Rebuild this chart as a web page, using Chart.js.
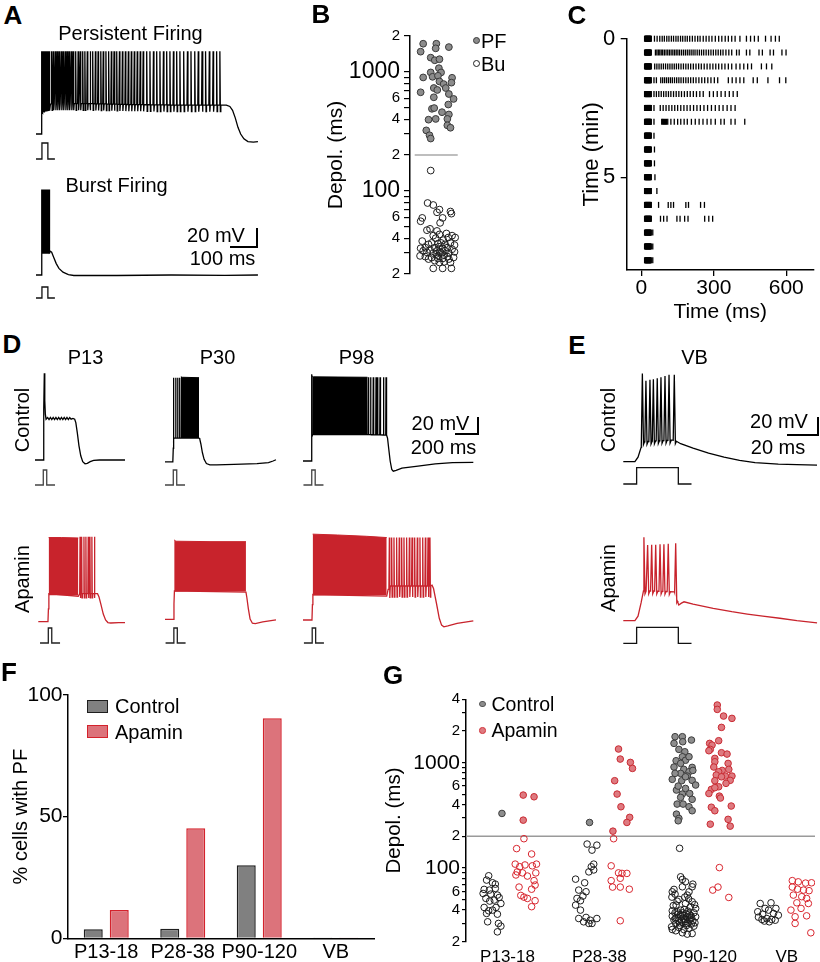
<!DOCTYPE html>
<html>
<head>
<meta charset="utf-8">
<title>Persistent firing and apamin</title>
<script src="https://cdn.jsdelivr.net/npm/chart.js@4.4.1/dist/chart.umd.min.js"></script>
<style>
  html, body { margin: 0; padding: 0; background: #fff; }
  body { position: relative; width: 820px; height: 962px; overflow: hidden;
         font-family: 'Liberation Sans', Arial, sans-serif; color: #000; }
  canvas { position: absolute; }
  .txt { position: absolute; white-space: nowrap; line-height: 1; transform: translate(-50%, -50%); }
  .txt.left { transform: translate(0, -50%); }
  .txt.rot { transform: translate(-50%, -50%) rotate(-90deg); }
</style>
</head>
<body>
<script>
Chart.defaults.font.family = "'Liberation Sans', Arial, sans-serif";
Chart.defaults.color = '#000';

// ---------- A: example traces (ms, mV) ----------
const stimA = [[0, 0], [22, 0], [22, 1], [44, 1], [44, 0], [70, 0]];
const persPath = [[0, -60], [19, -60], [21, -45], [23, -30], [60, -28], [200, -28], [350, -29], [500, -29.5], [690, -29.5],
  [705, -29.5], [718, -31], [728, -35], [738, -43], [748, -53], [758, -60], [770, -65], [785, -68], [805, -68.5], [822, -68]];
const persSpikes = [22, 24, 26, 28, 30, 32, 34, 36, 38, 40, 42, 44, 46, 48, 50,
  58, 64, 72, 79, 86, 94, 101, 109, 116, 123, 131, 138, 147, 156, 164, 173, 181, 190, 200, 210, 220, 230, 240, 249,
  259, 269, 279, 289, 299, 309, 320, 331, 342, 353, 364, 375, 386, 397, 410, 422, 435, 447, 459, 472, 484, 496, 509,
  521, 533, 547, 561, 574, 588, 601, 615, 628, 642, 656, 669, 681];
const burstPath = [[0, -60], [19, -60], [21, -45], [23, -37], [50, -37], [53, -35], [58, -36], [65, -41], [75, -48],
  [85, -53], [100, -57], [120, -59.5], [140, -60.5], [300, -60.5], [500, -60], [700, -60.3], [822, -60]];
const burstSpikes = [22, 24, 26, 28, 30, 32, 34, 36, 38, 40, 42, 44, 46, 48, 50];

// ---------- B: depolarisation duration (jitter, ms) ----------
const bPF = [[1.4, 1722], [2.8, 1722], [2.73, 1575], [1.13, 1477], [4.13, 1614], [2.2, 1316], [2.63, 1251], [3.13, 1276],
  [3.07, 1073], [2.2, 988], [3.3, 988], [1.4, 897], [2.4, 908], [2.97, 926], [4.47, 891], [3.13, 830], [3.57, 789],
  [4.4, 811], [2.53, 731], [2.9, 704], [3.8, 731], [1.13, 673], [4.13, 651], [2.53, 611], [4.63, 592], [4.07, 531],
  [2.33, 489], [2.57, 496], [3.4, 458], [4.13, 438], [1.97, 396], [2.73, 402], [3.97, 402], [3.97, 355], [4.3, 339],
  [1.73, 322], [2.07, 293], [2.2, 275]];
const bBu = [[2.2, 148], [1.87, 79], [2.47, 76], [3.13, 69.5], [2.87, 66], [4.3, 67], [4.4, 64.3], [1.3, 59.2], [1.13, 55.5],
  [3.47, 59.2], [3.2, 53.8], [2.13, 47.9], [1.8, 46.7], [2.87, 46], [3.87, 43.8], [1.3, 37.8], [2.47, 42], [3.13, 43],
  [4.47, 42], [4.8, 40.5], [2.73, 40], [3.53, 38.5], [4.07, 40.5], [1.97, 35.5], [2.3, 36.5], [2.97, 36], [3.3, 36.5],
  [3.73, 35.5], [4.3, 36.5], [4.73, 35], [1.63, 33.3], [2.63, 33.3], [3.07, 33.9], [3.47, 32.9], [3.97, 33.3],
  [4.47, 32.3], [2.13, 31.8], [2.87, 31.3], [3.2, 30.7], [3.73, 31.3], [1.13, 32.9], [1.4, 31.3], [1.8, 30.4],
  [2.47, 30], [4.13, 30], [4.73, 30.7], [1.07, 28.4], [1.63, 28], [2.3, 27.5], [2.97, 28.4], [3.47, 27], [3.97, 28],
  [4.63, 27.5], [1.97, 26.7], [2.63, 25.9], [3.13, 25], [3.63, 25.3], [4.3, 25], [2.47, 22.3], [3.47, 22.3],
  [4.4, 22.3], [2.8, 29.5], [3.3, 30], [3.63, 28.8], [2.97, 27], [4.13, 26.7]];
const bThreshold = [[0.5, 200], [5.07, 200]];
const bTickVals = [20, 30, 40, 50, 60, 70, 80, 90, 100, 200, 300, 400, 500, 600, 700, 800, 900, 1000, 2000];
const bTickText = ['2', '', '4', '', '6', '', '', '', '100', '2', '', '4', '', '6', '', '', '', '1000', '2'];

// ---------- C: raster, spike times (ms) per sweep ----------
const rasterRowMin = [0, 0.5, 1, 1.5, 2, 2.5, 3, 3.5, 4, 4.5, 5, 5.5, 6, 6.5, 7, 7.5, 8];
const rasterBurst = [15, 17, 19, 21, 23, 25, 27, 29, 31, 33, 35, 37, 39];
const rasterSpikes = [
  [54, 65, 76, 86, 95, 105, 114, 124, 133, 143, 152, 162, 171, 181, 190, 200, 211, 222, 233, 243, 256, 268, 280, 292,
    306, 320, 333, 347, 360, 374, 388, 408, 435, 452, 468, 484, 514, 537, 555, 571],
  [58, 64, 70, 76, 82, 88, 95, 102, 109, 116, 123, 130, 137, 144, 151, 158, 166, 174, 182, 190, 198, 206, 214, 222,
    231, 240, 249, 258, 268, 278, 288, 298, 308, 318, 328, 338, 350, 362, 374, 394, 405, 435, 449, 487, 501, 533, 547, 582, 599],
  [55, 64, 73, 82, 91, 100, 109, 118, 127, 136, 145, 154, 164, 174, 184, 194, 204, 215, 226, 237, 248, 260, 272, 284,
    296, 308, 320, 333, 346, 360, 374, 392, 408, 424, 440, 456, 497, 518, 540],
  [52, 62, 80, 88, 96, 104, 112, 120, 128, 137, 146, 155, 164, 174, 184, 194, 204, 215, 226, 238, 250, 262, 275, 288,
    302, 316, 360, 376, 392, 408, 424, 463, 480, 524, 572, 598],
  [52, 62, 72, 82, 92, 102, 112, 122, 133, 144, 155, 166, 178, 190, 202, 215, 228, 242, 256, 282, 298, 314, 330, 347, 364, 380, 397],
  [52, 78, 90, 102, 114, 126, 138, 150, 163, 176, 189, 202, 216, 230, 244, 259, 274, 290, 306, 322, 338, 355, 371, 388],
  [52, 84, 88, 92, 96, 100, 104, 109, 122, 136, 150, 163, 177, 190, 207, 223, 239, 255, 272, 288, 306, 329, 343, 371, 388, 428],
  [52], [54], [54], [56], [64],
  [71, 111, 122, 133, 184, 195, 245, 261],
  [79, 92, 106, 147, 160, 179, 193, 262, 279, 295],
  [47], [47], [47]
];
const cTicksX = [0, 300, 600];
const cTicksY = [0, 5];

// ---------- D: age examples, control and apamin ----------
const stimD = [[-72, 0], [0, 0], [0, 1], [30, 1], [30, 0], [102, 0]];
const d13cPath = [[0, -60], [70, -60], [74, -40], [78, 0], [81, 42], [85, 10], [90, -6], [96, -12], [110, -10], [122, -12.5],
  [134, -10], [146, -12.5], [158, -10], [170, -12.5], [182, -10], [194, -12.5], [206, -10], [218, -12.5], [230, -10],
  [242, -12.5], [254, -10], [266, -12.5], [278, -10], [290, -12.5], [302, -10], [314, -12], [330, -11], [345, -12],
  [355, -16], [368, -28], [382, -43], [398, -55], [415, -62], [435, -64.5], [455, -64], [480, -62], [510, -60.5],
  [560, -60], [783, -60]];
const d30cPath = [[0, -61], [68, -61], [72, -45], [75, -33], [296, -33], [302, -34], [312, -40], [325, -50], [340, -58],
  [360, -63], [390, -64.5], [450, -64.5], [600, -64], [800, -63], [900, -62], [940, -60], [965, -58.5]];
const d30cSpikes = [75, 93, 110, 128];
const d30cBand = [[138, 39], [150, 38.5], [296, 38]];
const d98cPath = [[0, -60], [72, -60], [76, -40], [80, -29], [300, -29], [560, -29], [728, -29.5], [735, -33], [745, -45],
  [758, -60], [772, -70], [785, -72], [810, -71], [860, -68.5], [1000, -66], [1150, -63.5], [1300, -62], [1481, -61.5]];
const d98cSpikes = [[77, 42], 567, 588, 611, 635, 649, 670, 699, 722];
const d98cBand = [[80, 40], [90, 39], [560, 38.5]];
const d13aPath = [[0, -60], [84, -60], [88, -45], [92, -27], [200, -28.5], [348, -30], [360, -27], [487, -27], [515, -27],
  [528, -31], [545, -40], [565, -51], [585, -58], [605, -61], [630, -61.5], [700, -61], [754, -61]];
const d13aSpikes = [363, 377, 397, 414, 434, 449, 466, 487];
const d13aBand = [[90, 39], [200, 39], [348, 38.5]];
const d30aPath = [[0, -60.5], [74, -60.5], [78, -42], [82, -27], [300, -27.5], [704, -28.5], [712, -35], [725, -48],
  [740, -60], [760, -65], [785, -65.5], [850, -63.5], [965, -61]];
const d30aBand = [[80, 33], [95, 31.5], [400, 31], [704, 31]];
const d98aPath = [[0, -60], [78, -60], [82, -42], [86, -30], [400, -31], [728, -32], [740, -24], [760, -20], [1110, -20],
  [1122, -19], [1135, -23], [1160, -40], [1185, -58], [1205, -66], [1225, -68], [1260, -67], [1340, -64], [1481, -61]];
const d98aSpikes = [751, 771, 791, 814, 837, 858, 878, 901, 925, 948, 971, 994, 1017, 1041, 1064, 1087, 1104];
const d98aBand = [[84, 41], [300, 40], [550, 38.5], [728, 37]];

// ---------- E: VB neuron ----------
const stimE = [[0, 0], [8.6, 0], [8.6, 1], [35.5, 1], [35.5, 0], [44, 0]];
const eCtrlPath = [[0, -60], [7.5, -60], [9.5, -55], [11.5, -44], [13, -38], [20, -37], [32, -36], [34.5, -37.5], [37, -40],
  [45, -45], [55, -50.5], [65, -55], [75, -58.5], [85, -61], [100, -62.6], [112, -63.3], [125, -63.7]];
const eCtrlSpikes = [[12.3, 38], [14.6, 30], [17.2, 31], [19.4, 31.7], [21.9, 32.6], [24.3, 33.7], [26.9, 35.2], [29.5, 36.6], [32.9, 36.6]];
const eApaPath = [[0, -60], [7.5, -60], [9.5, -55], [11.5, -40], [13, -27], [20, -27], [33, -28], [34.8, -38], [35.8, -42.5],
  [37.5, -40.5], [39.2, -39], [45, -41.5], [58, -46.2], [70, -50], [80, -52.6], [90, -55], [101, -57.3], [112, -60], [125, -62.5]];
const eApaSpikes = [[13.3, 32.7], [15.7, 24], [18.3, 24.5], [20.9, 24.5], [23.7, 25], [26.2, 25], [29, 25.5], [33.8, 26]];

// ---------- F: % cells with persistent firing ----------
const fGroups = ['P13-18', 'P28-38', 'P90-120', 'VB'];
const fControl = [3.7, 3.9, 30, 0.3];
const fApamin = [11.6, 45.2, 90.4, 0.3];
const fTicks = [0, 50, 100];

// ---------- G: depolarisation by age, control vs apamin (position, ms) ----------
const gGroupNames = ['P13-18', 'P28-38', 'P90-120', 'VB'];
const gGroupPos = [1.19, 3.82, 6.84, 9.19];
const gTickVals = [20, 30, 40, 50, 60, 70, 80, 90, 100, 200, 300, 400, 500, 600, 700, 800, 900, 1000, 2000, 3000, 4000];
const gTickText = ['2', '', '4', '', '6', '', '', '', '100', '2', '', '4', '', '6', '', '', '', '1000', '2', '', '4'];
const gThreshold = [[0, 200], [10, 200]];
const g13CtrlPF = [[1.03, 330]];
const g13CtrlBu = [[0.65, 84.5], [0.59, 76.9], [0.76, 72.5], [0.84, 70.4], [0.52, 62.7], [0.67, 61.8], [0.84, 64.1],
  [0.49, 57.4], [0.71, 56.6], [0.9, 55.4], [0.57, 51.5], [0.81, 49.7], [0.95, 52.6], [0.68, 48.6], [1.0, 46.1],
  [0.52, 42.3], [0.86, 42.3], [0.65, 39.3], [0.76, 39.9], [0.59, 37.1], [0.9, 36.5], [0.62, 30.9], [0.93, 29.8],
  [1.0, 28.1], [0.9, 24.8]];
const g13ApaPF = [[1.64, 493], [1.95, 475], [1.64, 285]];
const g13ApaBu = [[1.66, 190], [1.45, 153], [1.88, 136], [1.41, 109], [1.69, 107], [2.02, 109], [1.54, 103], [1.9, 105],
  [1.47, 92], [1.62, 90], [1.76, 84], [2.0, 90], [1.43, 86], [1.95, 76], [1.98, 69], [1.52, 66], [1.88, 63], [1.57, 55],
  [1.66, 53], [1.76, 51.5], [1.98, 49], [1.88, 43]];
const g28CtrlPF = [[3.54, 271]];
const g28CtrlBu = [[3.47, 169], [3.75, 165], [3.61, 148], [3.66, 109], [3.59, 103], [3.66, 96], [3.52, 92], [3.14, 78.5],
  [3.4, 72.5], [3.23, 61.8], [3.44, 59.6], [3.35, 54.2], [3.18, 51.5], [3.28, 49], [3.14, 44.5], [3.28, 39.9],
  [3.23, 33.2], [3.44, 34], [3.56, 32], [3.75, 33.2], [3.52, 29.8], [3.61, 29.8], [3.37, 30.9]];
const g28ApaPF = [[4.37, 1349], [4.42, 1083], [4.71, 1007], [4.77, 883], [4.26, 675], [4.33, 504], [4.44, 382],
  [4.69, 303], [4.61, 271], [4.21, 224]];
const g28ApaBu = [[4.23, 190], [4.16, 105], [4.47, 89], [4.61, 89], [4.37, 90], [4.16, 76], [4.42, 80], [4.2, 66],
  [4.42, 66], [4.68, 63], [4.42, 31.6]];
const g90CtrlPF = [[5.99, 1766], [6.2, 1766], [5.96, 1526], [6.21, 1582], [6.46, 1641], [6.1, 1338], [6.27, 1271],
  [6.2, 1140], [6.02, 1045], [6.29, 1055], [6.15, 985], [6.48, 903], [5.96, 910], [6.24, 865], [6.39, 821], [6.5, 845],
  [6.15, 792], [6.34, 747], [5.91, 695], [6.18, 675], [6.48, 680], [6.58, 614], [6.03, 550], [6.2, 504], [6.41, 510],
  [6.15, 469], [6.48, 449], [6.05, 405], [6.22, 405], [6.39, 382], [6.48, 350], [6.03, 325], [6.1, 296], [6.08, 281],
  [6.29, 735], [5.99, 792], [6.39, 1140], [6.08, 600], [6.29, 570]];
const g90CtrlBu = [[6.12, 154], [6.15, 82.6], [6.2, 78], [6.29, 74.1], [6.5, 70.4], [6.48, 66.4], [5.96, 62.7],
  [5.91, 59.5], [5.99, 56.6], [6.39, 59.5], [6.34, 55.4], [6.2, 66.4], [6.1, 50.4], [6.48, 47.9], [6.02, 44.5],
  [6.29, 46.1], [6.43, 42.9], [5.91, 39.3], [6.15, 39.9], [6.58, 41.4], [5.99, 37.6], [6.08, 36.5], [6.2, 37.6],
  [6.31, 37.1], [6.4, 36.5], [6.53, 37.6], [5.91, 35], [6.02, 34], [6.15, 34.5], [6.24, 33.5], [6.34, 34.5], [6.46, 34],
  [6.58, 34.5], [5.96, 32.1], [6.08, 31.6], [6.18, 32.1], [6.29, 31.1], [6.39, 32.1], [6.5, 31.6], [6.21, 35.5],
  [6.27, 32.5], [6.12, 30.2], [6.35, 29.8], [6.01, 29.8], [6.46, 29.4], [6.56, 30.2], [5.89, 27.7], [6.1, 27.3],
  [6.39, 26.7], [6.53, 28.1], [6.2, 24.3], [6.34, 23.6], [6.48, 23.9], [6.01, 25.4], [6.24, 26.1], [5.91, 26.1],
  [6.05, 38.5], [6.25, 40.5], [6.36, 39], [6.14, 36], [6.44, 35.5], [6.0, 33], [6.22, 30.5], [6.32, 28.5], [6.13, 28.5],
  [6.42, 32.8], [5.94, 44], [6.55, 45], [6.05, 48.5], [6.38, 51], [6.27, 53], [5.9, 53]];
const g90ApaPF = [[7.2, 3529], [7.2, 3208], [7.38, 2773], [7.62, 2636], [7.32, 2165], [7.24, 1618], [6.98, 1526],
  [7.05, 1471], [7.0, 1338], [6.96, 1300], [7.32, 1244], [7.48, 1208], [7.13, 1099], [7.13, 1022], [7.51, 985],
  [7.1, 910], [7.34, 845], [7.24, 821], [7.53, 865], [7.17, 764], [7.43, 747], [7.62, 747], [7.32, 735], [7.57, 680],
  [7.13, 675], [7.45, 637], [7.24, 591], [7.03, 558], [7.13, 580], [6.96, 510], [7.26, 482], [7.29, 462], [7.6, 388],
  [7.03, 378], [7.13, 350], [7.51, 290], [7.0, 261], [7.57, 250]];
const g90ApaBu = [[7.26, 101], [7.07, 61.8], [7.22, 66], [7.53, 52.6]];
const gVBCtrlBu = [[8.43, 46.1], [8.74, 46.8], [8.57, 41.4], [8.88, 41.4], [8.36, 38.5], [8.67, 39.9], [8.5, 36.5],
  [8.81, 37.1], [8.95, 35.7], [8.38, 34.2], [8.62, 33.2], [8.76, 32.5], [8.48, 32.5], [8.69, 30.9], [8.55, 31.4], [8.86, 32]];
const gVBApaBu = [[9.35, 76], [9.52, 74], [9.73, 72], [9.9, 72.5], [9.35, 66], [9.5, 63], [9.67, 61.8], [9.83, 61],
  [9.62, 53.5], [9.76, 51.5], [9.48, 46.8], [9.81, 46.1], [9.31, 39.9], [9.6, 41.4], [9.76, 35.2], [9.43, 29.8],
  [9.88, 24.3], [9.38, 55.4], [9.43, 34.5]];

// ---------- helpers ----------
const RED = '#c8232c';
const quiet = { responsive: false, animation: false, events: [], plugins: { legend: { display: false }, tooltip: { enabled: false } } };
const xy = arr => arr.map(([x, y]) => ({ x, y }));

function addCanvas(b) {
  const c = document.createElement('canvas');
  c.width = b.w; c.height = b.h;
  Object.assign(c.style, { left: b.l + 'px', top: b.t + 'px', width: b.w + 'px', height: b.h + 'px' });
  document.body.appendChild(c);
  return c;
}

function addText(s, x, y, size, cls, extra) {
  const d = document.createElement('div');
  d.className = 'txt' + (cls ? ' ' + cls : '');
  d.textContent = s;
  Object.assign(d.style, { left: x + 'px', top: y + 'px', fontSize: size + 'px' }, extra || {});
  document.body.appendChild(d);
}

function addBox(l, t, w, h, style) {
  const d = document.createElement('div');
  Object.assign(d.style, { position: 'absolute', boxSizing: 'border-box', left: l + 'px', top: t + 'px', width: w + 'px', height: h + 'px' }, style);
  document.body.appendChild(d);
}

// scale range so that value v1 lands on pixel p1 and v2 on p2 (page coords)
function fitRange([v1, p1, v2, p2], lo, len, down) {
  if (!down) {
    const k = (p2 - p1) / (v2 - v1);
    const min = v1 - (p1 - lo) / k;
    return { min, max: min + len / k };
  }
  const k = (p1 - p2) / (v2 - v1);
  const max = v1 + (p1 - lo) / k;
  return { min: max - len / k, max };
}

function levelAt(path, t) {
  if (t <= path[0][0]) return path[0][1];
  for (let i = 1; i < path.length; i++) {
    const [t1, v1] = path[i];
    if (t <= t1) {
      const [t0, v0] = path[i - 1];
      return v0 + (v1 - v0) * (t - t0) / (t1 - t0);
    }
  }
  return path[path.length - 1][1];
}

// subthreshold path with spikes inserted at their times
function buildTrace(path, spikes, peak, w, ahp) {
  const pts = xy(path);
  spikes.forEach(s => {
    const t = Array.isArray(s) ? s[0] : s;
    const top = Array.isArray(s) ? s[1] : peak;
    pts.push({ x: t - w / 2, y: levelAt(path, t - w / 2) });
    pts.push({ x: t, y: top });
    pts.push({ x: t + w / 2, y: levelAt(path, t + w / 2) - ahp });
    pts.push({ x: t + w, y: levelAt(path, t + w) });
  });
  return pts.sort((a, b) => a.x - b.x);
}

function traceChart(c) {
  const cv = addCanvas(c.box);
  const xr = fitRange(c.xa, c.box.l, c.box.w, false);
  const yr = fitRange(c.ya, c.box.t, c.box.h, true);
  const sr = fitRange(c.sa, c.box.t, c.box.h, true);
  const line = { showLine: true, pointRadius: 0, tension: 0, clip: false, fill: false };
  const sets = [
    { ...line, data: buildTrace(c.path, c.spikes || [], c.peak, c.w, c.ahp || 0), borderColor: c.color, borderWidth: 1.3 },
    { ...line, yAxisID: 's', data: c.stim.map(([t, s]) => ({ x: t + (c.onset || 0), y: s })), borderColor: c.stimColor || '#111', borderWidth: 1.3 }
  ];
  if (c.band) {
    sets.push({ ...line, data: xy(c.band), fill: { value: c.floor }, backgroundColor: c.color, borderColor: c.color, borderWidth: 1 });
  }
  return new Chart(cv, {
    type: 'scatter',
    data: { datasets: sets },
    options: {
      ...quiet,
      layout: { padding: 0 },
      scales: {
        x: { type: 'linear', display: false, bounds: 'data', min: xr.min, max: xr.max },
        y: { type: 'linear', display: false, bounds: 'data', min: yr.min, max: yr.max },
        s: { type: 'linear', axis: 'y', position: 'right', display: false, bounds: 'data', min: sr.min, max: sr.max }
      }
    }
  });
}

// ---------- traces: A, D, E ----------
[
  { box: { l: 30, t: 40, w: 240, h: 128 }, xa: [0, 36, 100, 63], ya: [-60, 134, -40, 115], sa: [0, 159, 1, 143],
    color: '#000', path: persPath, spikes: persSpikes, peak: 27, w: 3.5, ahp: 7, stim: stimA },
  { box: { l: 30, t: 175, w: 240, h: 128 }, xa: [0, 36, 100, 63], ya: [-60, 275, -40, 256], sa: [0, 298, 1, 287],
    color: '#000', path: burstPath, spikes: burstSpikes, peak: 30, w: 2, stim: stimA },
  { box: { l: 30, t: 365, w: 100, h: 125 }, xa: [0, 35, 200, 58], ya: [-60, 460, -40, 443], sa: [0, 485, 1, 470],
    color: '#000', path: d13cPath, stim: stimD, onset: 72, stimColor: '#444' },
  { box: { l: 160, t: 365, w: 125, h: 125 }, xa: [0, 165, 200, 188], ya: [-60, 461, -40, 444], sa: [0, 485, 1, 470],
    color: '#000', path: d30cPath, spikes: d30cSpikes, peak: 38, w: 5, band: d30cBand, floor: -33, stim: stimD, onset: 72, stimColor: '#444' },
  { box: { l: 298, t: 365, w: 180, h: 125 }, xa: [0, 303, 200, 326], ya: [-60, 461, -40, 444], sa: [0, 485, 1, 470],
    color: '#000', path: d98cPath, spikes: d98cSpikes, peak: 38.5, w: 5, band: d98cBand, floor: -29, stim: stimD, onset: 76, stimColor: '#444' },
  { box: { l: 30, t: 525, w: 100, h: 125 }, xa: [0, 38.3, 200, 61.3], ya: [-60, 621.7, -40, 604.7], sa: [0, 643, 1, 628],
    color: RED, path: d13aPath, spikes: d13aSpikes, peak: 40, w: 6, ahp: 5, band: d13aBand, floor: -29, stim: stimD, onset: 87, stimColor: '#222' },
  { box: { l: 160, t: 525, w: 125, h: 125 }, xa: [0, 165, 200, 188], ya: [-60, 619, -40, 602], sa: [0, 643, 1, 628],
    color: RED, path: d30aPath, band: d30aBand, floor: -27.5, stim: stimD, onset: 77, stimColor: '#222' },
  { box: { l: 298, t: 525, w: 180, h: 125 }, xa: [0, 303, 200, 326], ya: [-60, 620, -40, 603], sa: [0, 643, 1, 628],
    color: RED, path: d98aPath, spikes: d98aSpikes, peak: 37, w: 8, ahp: 13, band: d98aBand, floor: -31, stim: stimD, onset: 80, stimColor: '#222' },
  { box: { l: 615, t: 365, w: 205, h: 125 }, xa: [0, 623.3, 20, 654.3], ya: [-60, 461.7, -40, 443.7], sa: [0, 484, 1, 467.7],
    color: '#000', path: eCtrlPath, spikes: eCtrlSpikes, w: 1.4, ahp: 3, stim: stimE },
  { box: { l: 615, t: 525, w: 205, h: 125 }, xa: [0, 623.3, 20, 654.3], ya: [-60, 620.7, -40, 602.7], sa: [0, 643.3, 1, 627.3],
    color: RED, path: eApaPath, spikes: eApaSpikes, w: 1.4, ahp: 3, stim: stimE }
].forEach(traceChart);

// ---------- B ----------
const bLabel = Object.fromEntries(bTickVals.map((v, i) => [v, bTickText[i]]));
new Chart(addCanvas({ l: 320, t: 23, w: 175, h: 264 }), {
  type: 'scatter',
  data: {
    datasets: [
      { data: xy(bPF), pointRadius: 3.4, pointBackgroundColor: '#8c8c8c', pointBorderColor: '#3a3a3a', pointBorderWidth: 1 },
      { data: xy(bBu), pointRadius: 3.4, pointBackgroundColor: 'rgba(255,255,255,0)', pointBorderColor: '#1e1e1e', pointBorderWidth: 1 },
      { data: xy(bThreshold), showLine: true, pointRadius: 0, borderColor: '#a8a8a8', borderWidth: 1.5 }
    ]
  },
  options: {
    ...quiet,
    layout: { padding: { top: 12, bottom: 12, left: 0, right: 0 } },
    scales: {
      x: { type: 'linear', display: false, bounds: 'data', min: 0, max: 8.5 },
      y: {
        type: 'logarithmic', bounds: 'data', min: 20, max: 2000,
        afterBuildTicks: s => { s.ticks = bTickVals.map(v => ({ value: v })); },
        afterFit: s => { s.width = 90; },
        ticks: { autoSkip: false, padding: 4, callback: v => bLabel[v],
          font: ctx => ({ size: ctx.tick && (ctx.tick.value === 1000 || ctx.tick.value === 100) ? 23 : 15 }) },
        grid: { drawOnChartArea: false, tickLength: 6, color: '#000', lineWidth: 1.2 },
        border: { color: '#000', width: 1.5 },
        title: { display: true, text: 'Depol. (ms)', font: { size: 21 }, padding: { top: 4, bottom: 0 } }
      }
    }
  }
});

// ---------- C ----------
const rasterPts = [];
const rasterBlock = [];
rasterSpikes.forEach((row, i) => {
  row.forEach(t => rasterPts.push({ x: t, y: rasterRowMin[i] }));
  rasterBurst.forEach(t => rasterBlock.push({ x: t, y: rasterRowMin[i] }));
});
new Chart(addCanvas({ l: 560, t: 20, w: 260, h: 310 }), {
  type: 'scatter',
  data: {
    datasets: [
      { data: rasterPts, pointStyle: 'line', pointRotation: 90, pointRadius: 3, pointBorderColor: '#000', pointBorderWidth: 1.3, clip: false },
      { data: rasterBlock, pointStyle: 'line', pointRotation: 90, pointRadius: 3, pointBorderColor: '#000', pointBorderWidth: 2.2, clip: false }
    ]
  },
  options: {
    ...quiet,
    layout: { padding: { top: 13.3, right: 3.3, left: 0, bottom: 0 } },
    scales: {
      x: {
        type: 'linear', bounds: 'data', min: -61, max: 714,
        afterBuildTicks: s => { s.ticks = cTicksX.map(v => ({ value: v })); },
        afterFit: s => { s.height = 60; },
        ticks: { font: { size: 21 }, padding: 0, maxRotation: 0, autoSkip: false },
        grid: { drawOnChartArea: false, tickLength: 6, color: '#000', lineWidth: 1.3 },
        border: { color: '#000', width: 1.5 },
        title: { display: true, text: 'Time (ms)', font: { size: 21 }, padding: { top: 0, bottom: 5 } }
      },
      y: {
        type: 'linear', reverse: true, bounds: 'data', min: 0, max: 8.35,
        afterBuildTicks: s => { s.ticks = cTicksY.map(v => ({ value: v })); },
        afterFit: s => { s.width = 66.7; },
        ticks: { font: { size: 22 }, padding: 5.5, autoSkip: false },
        grid: { drawOnChartArea: false, tickLength: 6, color: '#000', lineWidth: 1.3 },
        border: { color: '#000', width: 1.5 },
        title: { display: true, text: 'Time (min)', font: { size: 22 }, padding: { top: 19 } }
      }
    }
  }
});

// ---------- F ----------
new Chart(addCanvas({ l: 0, t: 680, w: 380, h: 282 }), {
  type: 'bar',
  data: {
    labels: fGroups,
    datasets: [
      { label: 'Control', data: fControl, backgroundColor: '#808080', borderColor: '#1e1e1e', borderWidth: 1.5,
        categoryPercentage: 0.68, barPercentage: 0.73 },
      { label: 'Apamin', data: fApamin, backgroundColor: '#dc737b', borderColor: '#d4222c', borderWidth: 1.5,
        categoryPercentage: 0.68, barPercentage: 0.73 }
    ]
  },
  options: {
    ...quiet,
    layout: { padding: { top: 15, right: 6, left: 0, bottom: 0 } },
    scales: {
      x: {
        afterFit: s => { s.height = 23.7; },
        grid: { display: false, drawTicks: false },
        border: { color: '#000', width: 1.5 },
        ticks: { font: { size: 20 }, padding: 2, maxRotation: 0, autoSkip: false }
      },
      y: {
        min: 0, max: 100, bounds: 'data',
        afterBuildTicks: s => { s.ticks = fTicks.map(v => ({ value: v })); },
        afterFit: s => { s.width = 68; },
        grid: { drawOnChartArea: false, tickLength: 5, color: '#000', lineWidth: 1.3 },
        border: { color: '#000', width: 1.5 },
        ticks: { font: { size: 21 }, padding: 0.5 },
        title: { display: true, text: '% cells with PF', font: { size: 20 }, padding: { top: 9.7 } }
      }
    }
  }
});

// ---------- G ----------
const gLabel = Object.fromEntries(gTickVals.map((v, i) => [v, gTickText[i]]));
const grayPF = { pointRadius: 3.3, pointBackgroundColor: '#8d8d8d', pointBorderColor: '#3c3c3c', pointBorderWidth: 1 };
const blackBu = { pointRadius: 3.3, pointBackgroundColor: 'rgba(255,255,255,0)', pointBorderColor: '#1c1c1c', pointBorderWidth: 1 };
const redPF = { pointRadius: 3.3, pointBackgroundColor: '#de7a80', pointBorderColor: '#c92b33', pointBorderWidth: 1 };
const redBu = { pointRadius: 3.3, pointBackgroundColor: 'rgba(255,255,255,0)', pointBorderColor: '#d8252e', pointBorderWidth: 1 };
new Chart(addCanvas({ l: 380, t: 687, w: 440, h: 275 }), {
  type: 'scatter',
  data: {
    datasets: [
      { ...grayPF, data: xy([...g13CtrlPF, ...g28CtrlPF, ...g90CtrlPF]) },
      { ...blackBu, data: xy([...g13CtrlBu, ...g28CtrlBu, ...g90CtrlBu, ...gVBCtrlBu]) },
      { ...redPF, data: xy([...g13ApaPF, ...g28ApaPF, ...g90ApaPF]) },
      { ...redBu, data: xy([...g13ApaBu, ...g28ApaBu, ...g90ApaBu, ...gVBApaBu]) },
      { data: xy(gThreshold), showLine: true, pointRadius: 0, borderColor: '#9a9a9a', borderWidth: 1.5 }
    ]
  },
  options: {
    ...quiet,
    layout: { padding: { top: 12.3, right: 3.3, left: 0, bottom: 0 } },
    scales: {
      x: {
        type: 'linear', bounds: 'data', min: 0, max: 10,
        afterBuildTicks: s => { s.ticks = gGroupPos.map(v => ({ value: v })); },
        afterFit: s => { s.height = 20.3; },
        ticks: { font: { size: 17 }, padding: 5, maxRotation: 0, autoSkip: false, callback: (v, i) => gGroupNames[i] },
        grid: { display: false, drawTicks: false },
        border: { display: false }
      },
      y: {
        type: 'logarithmic', bounds: 'data', min: 20, max: 4000,
        afterBuildTicks: s => { s.ticks = gTickVals.map(v => ({ value: v })); },
        afterFit: s => { s.width = 86; },
        ticks: { autoSkip: false, padding: 2, callback: v => gLabel[v],
          font: ctx => ({ size: ctx.tick && (ctx.tick.value === 1000 || ctx.tick.value === 100) ? 21 : 15 }) },
        grid: { drawOnChartArea: false, tickLength: 4, color: '#000', lineWidth: 1.2 },
        border: { color: '#000', width: 1.5 },
        title: { display: true, text: 'Depol. (ms)', font: { size: 20.5 }, padding: { top: 1.7, bottom: 0 } }
      }
    }
  }
});

// ---------- text, scale bars, legends ----------
const bold = { fontWeight: 'bold' };
[['A', 13, 15], ['B', 321, 14], ['C', 577, 15], ['D', 12, 344], ['E', 577, 345], ['F', 9, 672], ['G', 393, 675]]
  .forEach(([s, x, y]) => addText(s, x, y, 26, '', bold));

addText('Persistent Firing', 130.5, 33, 20);
addText('Burst Firing', 116.5, 185, 20);
addText('20 mV', 216, 235, 20);
addText('100 ms', 222.5, 258, 20);
addBox(256.3, 228, 1.5, 19.5, { background: '#000' });
addBox(230, 246.3, 27.8, 1.5, { background: '#000' });

addText('P13', 85.5, 357, 20);
addText('P30', 217.5, 357, 20);
addText('P98', 356.5, 357, 20);
addText('Control', 21.5, 420, 20, 'rot');
addText('Apamin', 21.5, 579, 20, 'rot');
addText('20 mV', 440.5, 423, 20);
addText('200 ms', 443.5, 447, 20);
addBox(477.3, 417, 1.5, 17.5, { background: '#000' });
addBox(455, 433.3, 23.8, 1.5, { background: '#000' });

addText('VB', 694.5, 357, 20);
addText('Control', 607.5, 420, 20, 'rot');
addText('Apamin', 607.5, 578, 20, 'rot');
addText('20 mV', 779, 420.5, 20);
addText('20 ms', 778, 447, 20);
addBox(817.3, 417, 1.5, 18.5, { background: '#000' });
addBox(787, 434.3, 31.8, 1.5, { background: '#000' });

// B legend
addBox(472.5, 36.5, 7, 7, { background: '#8c8c8c', border: '1px solid #3a3a3a', borderRadius: '50%' });
addText('PF', 481, 41, 20, 'left');
addBox(472.5, 59.5, 7, 7, { border: '1px solid #1e1e1e', borderRadius: '50%' });
addText('Bu', 481, 64, 20, 'left');

// F legend
addBox(87, 699.5, 20.5, 13, { background: '#808080', border: '1.5px solid #1e1e1e' });
addText('Control', 115, 706, 20, 'left');
addBox(87, 725, 20.5, 13, { background: '#dc737b', border: '1.5px solid #d4222c' });
addText('Apamin', 115, 731.5, 20, 'left');

// G legend
addBox(479, 700.5, 6.5, 6.5, { background: '#8d8d8d', border: '1px solid #555', borderRadius: '50%' });
addText('Control', 491.5, 704.5, 19.5, 'left');
addBox(479, 727, 6.5, 6.5, { background: '#de7a80', border: '1px solid #d2353d', borderRadius: '50%' });
addText('Apamin', 491.5, 731, 19.5, 'left');
</script>
</body>
</html>
